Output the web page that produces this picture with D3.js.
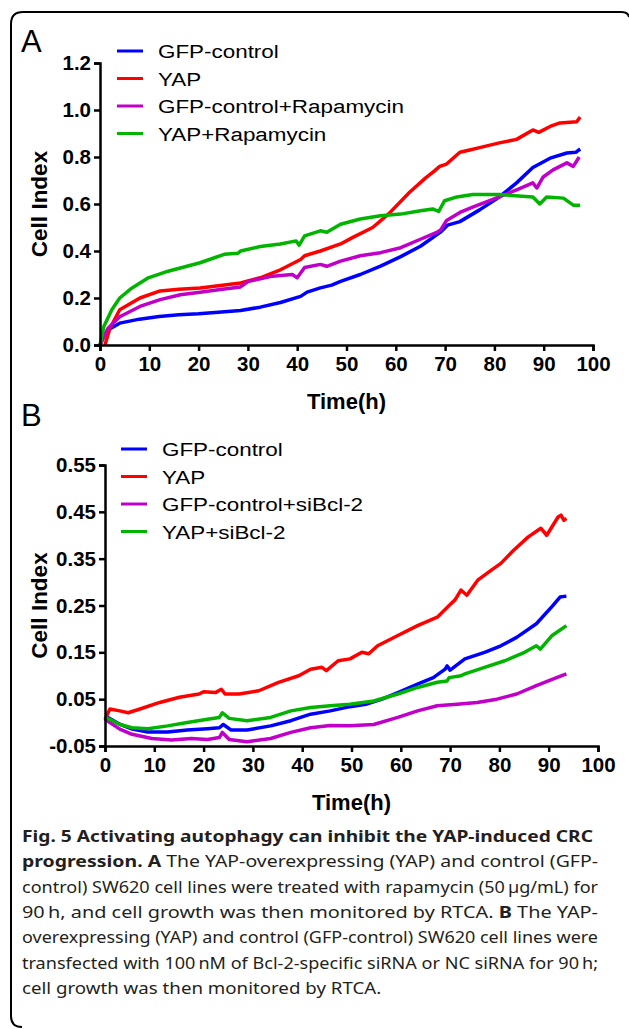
<!DOCTYPE html>
<html lang="en">
<head>
<meta charset="UTF-8">
<title>Fig 5</title>
<script src="https://d3js.org/d3.v7.min.js"></script>
<style>
  body { margin: 0; background: #fff; }
  svg { display: block; }
</style>
</head>
<body>
<svg id="fig" width="629" height="1029"></svg>
<script>
// ---- panel A data (time h, cell index) ----
var timeA_gfp = [0, 0.8, 1.6, 4, 8, 12, 16, 20, 24, 28.5, 32.5, 36.6, 40.7, 42, 44.7, 47, 48.8, 52.8, 56.9, 61, 65, 69, 70.5, 73, 77, 81, 84.5, 87.8, 91.3, 94.7, 96.5, 97.4];
var gfpA      = [0, 0.04, 0.064, 0.093, 0.11, 0.121, 0.129, 0.133, 0.139, 0.147, 0.161, 0.181, 0.207, 0.225, 0.243, 0.255, 0.271, 0.3, 0.336, 0.376, 0.42, 0.479, 0.51, 0.525, 0.575, 0.63, 0.69, 0.755, 0.795, 0.817, 0.82, 0.834];
var timeA_yap = [1, 2, 4, 8.1, 12.2, 16, 20.3, 24, 28.5, 32.5, 36.6, 40.7, 41.5, 44.7, 48.8, 51.2, 55.3, 58.5, 62.8, 66, 67.8, 68.9, 70.3, 73, 75, 77, 81, 84.5, 87.8, 89, 91.3, 93.3, 96.7, 97.4];
var yapA      = [0, 0.07, 0.15, 0.2, 0.23, 0.237, 0.243, 0.252, 0.264, 0.286, 0.32, 0.364, 0.38, 0.4, 0.43, 0.457, 0.5, 0.557, 0.65, 0.71, 0.74, 0.76, 0.77, 0.82, 0.83, 0.84, 0.86, 0.875, 0.915, 0.905, 0.93, 0.945, 0.95, 0.97];
var timeA_gfpR = [0, 1.6, 4, 8.1, 12.2, 16.3, 20.3, 24.4, 28.5, 30, 35, 39, 40, 41.5, 44.7, 46, 48.8, 52.8, 56.9, 61, 65, 68.3, 69.1, 70.3, 73, 75.6, 81, 84.5, 87.8, 88.6, 89.9, 91.9, 94.7, 96, 97.2];
var gfpRapaA   = [0, 0.07, 0.12, 0.164, 0.193, 0.214, 0.224, 0.236, 0.247, 0.27, 0.293, 0.3, 0.286, 0.33, 0.343, 0.335, 0.357, 0.38, 0.393, 0.414, 0.45, 0.479, 0.49, 0.53, 0.564, 0.587, 0.63, 0.66, 0.69, 0.668, 0.715, 0.745, 0.775, 0.76, 0.8];
var timeA_yapR = [0, 0.8, 2.4, 4, 6.5, 9.8, 13.8, 20.3, 25.2, 28, 28.5, 32.5, 36.6, 39.8, 40.4, 41.5, 44.7, 46, 48.8, 52.8, 56.9, 61, 65, 67.5, 68.7, 69.9, 72.4, 75.6, 81, 87.8, 89.2, 90.6, 94, 96, 97.4];
var yapRapaA   = [0, 0.08, 0.15, 0.2, 0.243, 0.286, 0.314, 0.35, 0.386, 0.39, 0.4, 0.419, 0.43, 0.443, 0.425, 0.464, 0.486, 0.48, 0.514, 0.536, 0.55, 0.557, 0.571, 0.579, 0.568, 0.614, 0.63, 0.64, 0.64, 0.63, 0.6, 0.63, 0.625, 0.595, 0.595];

// ---- panel B data ----
var timeB_gfp = [0, 0.6, 3.1, 5.5, 8.7, 12.7, 16.7, 20.8, 23.2, 24, 25.6, 28.8, 33.6, 37.7, 41.7, 45.7, 49.7, 52.9, 56.2, 59.4, 63.4, 66.6, 69, 69.4, 70, 73, 77, 80.3, 83.5, 87.5, 90.7, 92.3, 93.6];
var gfpB      = [0.004, 0.011, -0.004, -0.014, -0.02, -0.02, -0.016, -0.013, -0.011, -0.004, -0.016, -0.016, -0.007, 0.004, 0.018, 0.025, 0.034, 0.039, 0.05, 0.064, 0.082, 0.096, 0.114, 0.121, 0.112, 0.136, 0.15, 0.164, 0.182, 0.211, 0.248, 0.268, 0.27];
var timeB_yap = [0, 1, 3, 4.7, 7.1, 11.1, 15.1, 19.1, 20, 22.4, 23.6, 24.4, 27.2, 31.2, 35.2, 39.3, 41.7, 44, 44.9, 47.3, 49.7, 52.1, 53.5, 55.3, 59.4, 63.4, 67.4, 69.8, 71, 72.2, 73.4, 75.6, 78.3, 80.3, 82.9, 85.8, 88.4, 89.6, 91.9, 92.5, 93.1, 93.6];
var yapB      = [0.007, 0.029, 0.025, 0.021, 0.029, 0.043, 0.054, 0.061, 0.066, 0.064, 0.071, 0.061, 0.061, 0.068, 0.086, 0.1, 0.114, 0.118, 0.111, 0.132, 0.136, 0.15, 0.147, 0.164, 0.186, 0.207, 0.225, 0.25, 0.262, 0.283, 0.272, 0.304, 0.325, 0.34, 0.368, 0.396, 0.415, 0.4, 0.439, 0.443, 0.432, 0.436];
var timeB_gfpS = [0, 1, 3, 5.5, 9.5, 13.5, 17.5, 20.8, 23.2, 23.8, 25.2, 28.8, 33.6, 37.7, 41.7, 45.7, 49.7, 54.5, 59.4, 63.4, 67.4, 71.4, 75.5, 79.5, 83.5, 87.5, 91.6, 93.6];
var gfpSiB     = [0.007, 0, -0.014, -0.025, -0.034, -0.037, -0.034, -0.036, -0.032, -0.021, -0.036, -0.041, -0.034, -0.021, -0.011, -0.006, -0.007, -0.004, 0.011, 0.025, 0.036, 0.039, 0.043, 0.05, 0.061, 0.079, 0.096, 0.104];
var timeB_yapS = [0, 1, 3, 5.5, 8.7, 12.7, 16.7, 20.8, 23.2, 23.8, 25.2, 28.8, 33.6, 37.7, 41.7, 45.7, 49.7, 54.5, 59.4, 63.4, 67.4, 69.4, 69.8, 72.2, 73, 77, 81.1, 85.1, 87.5, 88.3, 90.7, 93.6];
var yapSiB     = [0.011, 0.007, -0.004, -0.011, -0.013, -0.007, 0, 0.007, 0.011, 0.021, 0.009, 0.004, 0.011, 0.025, 0.032, 0.036, 0.039, 0.046, 0.061, 0.075, 0.086, 0.089, 0.096, 0.1, 0.104, 0.118, 0.132, 0.15, 0.164, 0.157, 0.186, 0.207];

var xTicks = [0, 10, 20, 30, 40, 50, 60, 70, 80, 90, 100];
var yTicksA = [0.0, 0.2, 0.4, 0.6, 0.8, 1.0, 1.2];
var yTicksB = [-0.05, 0.05, 0.15, 0.25, 0.35, 0.45, 0.55];
var legendA = ["GFP-control", "YAP", "GFP-control+Rapamycin", "YAP+Rapamycin"];
var legendB = ["GFP-control", "YAP", "GFP-control+siBcl-2", "YAP+siBcl-2"];
var colors = ["#0000ff", "#ff0000", "#c000c8", "#00b400"];

var svg = d3.select("#fig");
var axisFont = "'Liberation Sans', Arial, sans-serif";

// frame
svg.append("path")
  .attr("d", "M22,1027 Q11,1027 11,1016 V24 Q11,12 23,12 H621 Q628,12 629,17")
  .attr("fill", "none").attr("stroke", "#000").attr("stroke-width", 2);

function panel(opt) {
  var x = d3.scaleLinear().domain([0, 100]).range([opt.x0, opt.x1]);
  var y = d3.scaleLinear().domain(opt.ydom).range([opt.y0, opt.y1]);
  var g = svg.append("g");

  var line = d3.line().x(function(d) { return x(d[0]); }).y(function(d) { return y(d[1]); });
  opt.series.forEach(function(s, i) {
    var pts = s[0].map(function(t, j) { return [t, s[1][j]]; });
    g.append("path").datum(pts)
      .attr("d", line)
      .attr("fill", "none")
      .attr("stroke", colors[i])
      .attr("stroke-width", 3.5)
      .attr("stroke-linejoin", "round");
  });

  var xa = g.append("g").attr("transform", "translate(0," + opt.y0 + ")")
    .call(d3.axisBottom(x).tickValues(xTicks).tickSize(6).tickPadding(5).tickFormat(d3.format("d")));
  var ya = g.append("g").attr("transform", "translate(" + opt.x0 + ",0)")
    .call(d3.axisLeft(y).tickValues(opt.yticks).tickSize(6).tickPadding(3)
      .tickFormat(function(d) { return opt.yfmt(d).replace("\u2212", "-"); }));
  [xa, ya].forEach(function(a) {
    a.select(".domain").attr("stroke-width", 2.5);
    a.selectAll(".tick line").attr("stroke-width", 2.5);
    a.selectAll("text").attr("font-family", axisFont).attr("font-weight", "bold")
      .attr("font-size", 20.5).attr("fill", "#000");
  });

  g.append("text")
    .attr("x", (opt.x0 + opt.x1) / 2).attr("y", opt.y0 + 64)
    .attr("text-anchor", "middle")
    .attr("font-family", axisFont).attr("font-weight", "bold").attr("font-size", 22)
    .text("Time(h)");
  g.append("text")
    .attr("transform", "translate(47," + (opt.y0 + opt.y1) / 2 + ") rotate(-90)")
    .attr("text-anchor", "middle")
    .attr("font-family", axisFont).attr("font-weight", "bold").attr("font-size", 22.5)
    .text("Cell Index");

  g.append("text").attr("x", 21).attr("y", opt.labelY)
    .attr("font-family", axisFont).attr("font-size", 31).text(opt.label);

  var lg = g.selectAll(".lg").data(opt.legend).enter().append("g")
    .attr("transform", function(d, i) { return "translate(" + opt.lx + "," + (opt.ly + i * 27.5) + ")"; });
  lg.append("line").attr("x1", 0).attr("x2", 26)
    .attr("stroke", function(d, i) { return colors[i]; }).attr("stroke-width", 3);
  lg.append("text").attr("transform", "translate(41,7) scale(1.18,1)")
    .attr("font-family", axisFont).attr("font-size", 19).text(function(d) { return d; });
}

panel({
  x0: 100, x1: 593, y0: 345, y1: 63, ydom: [0, 1.2], yticks: yTicksA, yfmt: d3.format(".1f"),
  label: "A", labelY: 52, lx: 117, ly: 51, legend: legendA,
  series: [[timeA_gfp, gfpA], [timeA_yap, yapA], [timeA_gfpR, gfpRapaA], [timeA_yapR, yapRapaA]]
});
panel({
  x0: 105, x1: 598, y0: 746, y1: 465, ydom: [-0.05, 0.55], yticks: yTicksB, yfmt: d3.format(".2f"),
  label: "B", labelY: 426, lx: 121, ly: 449, legend: legendB,
  series: [[timeB_gfp, gfpB], [timeB_yap, yapB], [timeB_gfpS, gfpSiB], [timeB_yapS, yapSiB]]
});

// caption: justified lines stretched to the right margin
var capFont = "'Noto Sans', 'Open Sans', sans-serif";
var capLines = [
  [["Fig. 5 Activating autophagy can inhibit the YAP-induced CRC", true]],
  [["progression. A", true], [" The YAP-overexpressing (YAP) and control (GFP-", false]],
  [["control) SW620 cell lines were treated with rapamycin (50\u2009\u00b5g/mL) for", false]],
  [["90\u2009h, and cell growth was then monitored by RTCA. ", false], ["B", true], [" The YAP-", false]],
  [["overexpressing (YAP) and control (GFP-control) SW620 cell lines were", false]],
  [["transfected with 100\u2009nM of Bcl-2-specific siRNA or NC siRNA for 90\u2009h;", false]],
  [["cell growth was then monitored by RTCA.", false]]
];
var capW = [571, 576, 576, 576, 576, 576, 0];
var ratios = [];
capLines.forEach(function(parts, i) {
  var t = svg.append("text").attr("x", 22).attr("y", 842 + i * 25.3)
    .attr("font-family", capFont).attr("font-size", 16).attr("fill", "#231f20");
  parts.forEach(function(p) {
    t.append("tspan").attr("font-weight", p[1] ? "bold" : "normal").text(p[0]);
  });
  var w = t.node().getComputedTextLength();
  var target = capW[i];
  if (!target) {
    var r = d3.mean(ratios.slice(1));
    target = w * r;
  } else {
    ratios.push(target / w);
  }
  t.attr("textLength", target).attr("lengthAdjust", "spacingAndGlyphs");
});
</script>
</body>
</html>
